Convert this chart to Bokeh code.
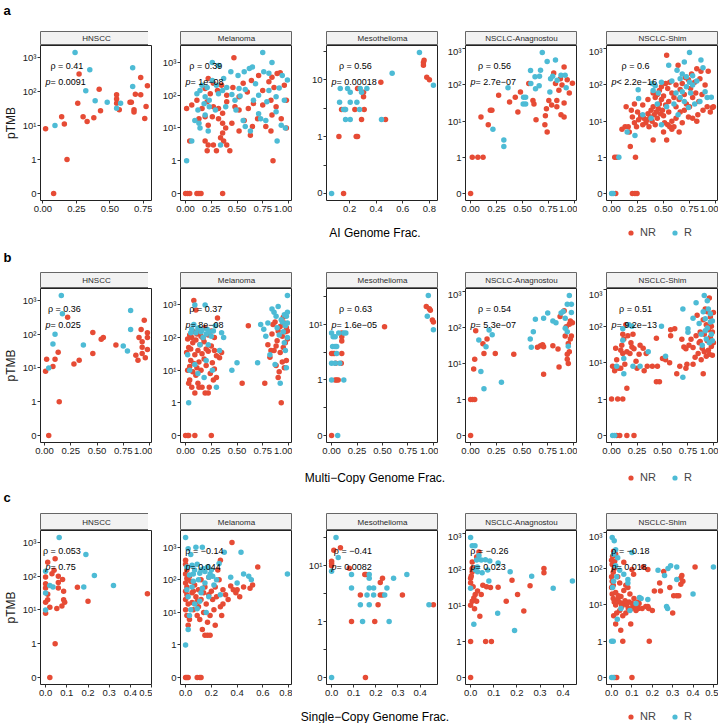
import math
from bokeh.plotting import figure
from bokeh.layouts import column, row
from bokeh.models import Range1d, FixedTicker, NumeralTickFormatter, Legend, LegendItem
from bokeh.core.properties import value
from bokeh.embed import file_html
from bokeh.resources import INLINE

RED = "#E64B35"
BLUE = "#4DBBD5"
FONT = "Liberation Sans"

panel_names = ["HNSCC", "Melanoma", "Mesothelioma", "NSCLC-Anagnostou", "NSCLC-Shim"]
row_letters = ["a", "b", "c"]
row_titles = ["AI Genome Frac.", "Multi\u2212Copy Genome Frac.", "Single\u2212Copy Genome Frac."]

rho_a = ["0.41", "0.39", "0.56", "0.56", "0.6"]
p_a = ["= 0.0091", "= 1e\u221208", "= 0.00018", "= 2.7e\u221207", "< 2.2e\u221216"]
rho_b = ["0.36", "0.37", "0.63", "0.54", "0.51"]
p_b = ["= 0.025", "= 8e\u221208", "= 1.6e\u221205", "= 5.3e\u221207", "= 9.2e\u221213"]
rho_c = ["0.053", "\u22120.14", "\u22120.41", "\u22120.26", "\u22120.18"]
p_c = ["= 0.75", "= 0.044", "= 0.0082", "= 0.023", "= 0.018"]

xticks_a = [[0, .25, .5, .75], [0, .25, .5, .75, 1], [.2, .4, .6, .8], [0, .25, .5, .75, 1], [0, .25, .5, .75, 1]]
xfmt_a = ["0.00", "0.00", "0.0", "0.00", "0.00"]
xticks_b = [[0, .25, .5, .75, 1]] * 5
xfmt_b = ["0.00"] * 5
xticks_c = [[0, .1, .2, .3, .4, .5], [0, .2, .4, .6, .8], [0, .1, .2, .3, .4], [0, .1, .2, .3, .4], [0, .1, .2, .3, .4, .5]]
xfmt_c = ["0.0"] * 5

y_ticks = [0.1, 1, 10, 100, 1000]
y_labels = ["0", "1", "10\u00b9", "10\u00b2", "10\u00b3"]

# ---------------- data: (genome fraction, pTMB) ----------------
a_hnscc_nr = [(0.27,330),(0.02,8),(0.14,18),(0.16,11),(0.18,1),(0.08,0),(0.26,45),(0.30,18),(0.33,13),(0.38,17),(0.42,117),(0.43,27),(0.55,80),(0.55,60),(0.55,45),(0.57,29),(0.65,48),(0.66,48),(0.68,29),(0.68,25),(0.69,83),(0.73,260),(0.73,80),(0.78,148),(0.77,36),(0.76,16)]
a_hnscc_r = [(0.24,1400),(0.35,440),(0.32,105),(0.39,53),(0.48,48),(0.55,32),(0.58,45),(0.67,500),(0.67,140),(0.09,10)]
a_mel_nr = [(.47,1380),(.22,320),(.27,230),(.19,160),(.24,110),(.31,140),(.35,200),(.40,100),(.46,170),(.52,90),(.56,230),(.60,126),(.64,280),(.71,400),(.75,140),(.84,350),(.89,460),(.92,480),(.96,200),(.86,170),(.81,255),(.01,39),(.06,50),(.11,70),(.16,39),(.21,63),(.27,44),(.32,39),(.36,28),(.40,63),(.48,44),(.52,35),(.61,39),(.66,56),(.75,50),(.83,70),(.88,44),(.98,70),(.13,19),(.19,22),(.22,12),(.26,22),(.32,19),(.36,14),(.39,10),(.45,14),(.52,8),(.57,17),(.65,11),(.70,19),(.78,11),(.84,25),(.93,19),(.98,10),(.04,4),(.19,4),(.22,3),(.27,3),(.30,2),(.34,5),(.37,4),(.40,3),(.43,2),(.21,2),(.36,7),(.63,6),(.83,8),(.85,1),(0.0,0),(.02,0),(.04,0),(.11,0),(.13,0),(.15,0),(.36,0)]
a_mel_r = [(.75,2000),(.84,1000),(.26,1000),(.32,800),(.65,720),(.57,515),(.62,650),(.76,515),(.81,470),(.99,290),(.16,200),(.21,170),(.14,140),(.11,110),(.19,90),(.23,70),(.26,280),(.30,200),(.36,140),(.40,170),(.45,105),(.48,70),(.52,160),(.58,150),(.53,95),(.66,70),(.71,100),(.79,63),(.88,90),(.91,165),(.94,400),(.71,27),(.73,19),(.56,17),(.58,11),(.63,8),(.78,17),(.88,31),(.93,12),(.89,4),(.01,1),(.09,17),(.13,14),(.12,35),(.19,25),(.23,44),(.29,35),(.34,3),(.06,4),(.14,10),(.22,8),(.39,44),(.49,35),(.18,55),(.32,110),(.37,320),(.44,515),(.51,400),(.68,225),(.81,140),(.96,70),(.97,10)]
a_meso_nr = [(0.155,0),(0.12,1),(0.25,1),(0.26,1),(0.29,2),(0.47,2),(0.14,3),(0.24,3),(0.31,3),(0.165,3),(0.26,7),(0.305,6),(0.305,5),(0.435,9),(0.755,20),(0.755,18),(0.76,22),(0.78,11),(0.80,10)]
a_meso_r = [(0.065,0),(0.17,2),(0.205,2),(0.44,2),(0.125,4),(0.205,4),(0.255,4),(0.155,3),(0.17,3),(0.275,3),(0.13,7),(0.185,7),(0.205,6),(0.28,7),(0.29,6),(0.33,7),(0.52,13),(0.725,30),(0.83,8)]
a_anag_nr = [(0,0),(0.016,1),(0.07,1),(0.12,1),(0.10,13),(0.17,8),(0.19,20),(0.205,20),(0.27,52),(0.375,34),(0.43,46),(0.455,18),(0.48,64),(0.56,110),(0.60,37),(0.61,30),(0.63,11),(0.72,14),(0.715,8),(0.737,5),(0.73,22),(0.753,37),(0.78,28),(0.80,215),(0.817,110),(0.83,37),(0.83,25),(0.85,71),(0.865,150),(0.87,15),(0.88,100),(0.90,315),(0.90,32),(0.90,13),(0.93,140),(0.95,60),(0.98,112)]
a_anag_r = [(0.215,6),(0.32,3),(0.32,2),(0.36,84),(0.51,46),(0.53,46),(0.506,30),(0.53,30),(0.577,250),(0.58,110),(0.62,170),(0.625,79),(0.66,95),(0.663,175),(0.673,255),(0.69,790),(0.737,450),(0.763,64),(0.77,150),(0.79,175),(0.817,490),(0.833,135),(0.87,185),(0.91,185),(0.92,84)]
a_shim_nr = [(0.04,0),(0.20,0),(0.225,0),(0.245,0),(0.03,1),(0.05,1),(0.23,1),(0.18,2),(0.40,3),(0.53,3),(0.14,25),(0.13,7),(0.10,6),(0.16,7),(0.17,5),(0.20,13),(0.19,20),(0.22,9),(0.24,7),(0.26,11),(0.28,14),(0.30,8),(0.31,12),(0.33,9),(0.34,11),(0.35,16),(0.36,7),(0.37,13),(0.38,20),(0.39,10),(0.40,25),(0.41,15),(0.42,8),(0.43,18),(0.44,12),(0.45,22),(0.46,30),(0.47,16),(0.48,40),(0.49,20),(0.50,14),(0.51,9),(0.52,28),(0.54,8),(0.55,18),(0.56,7),(0.58,10),(0.60,7),(0.62,12),(0.65,5),(0.68,9),(0.40,60),(0.42,45),(0.44,55),(0.46,70),(0.48,90),(0.50,50),(0.52,110),(0.53,665),(0.54,80),(0.55,35),(0.56,120),(0.58,60),(0.60,45),(0.62,100),(0.64,350),(0.65,40),(0.66,75),(0.68,110),(0.70,55),(0.71,160),(0.72,30),(0.74,140),(0.75,25),(0.76,80),(0.77,200),(0.78,45),(0.80,120),(0.81,60),(0.82,280),(0.83,15),(0.84,35),(0.85,150),(0.86,240),(0.87,55),(0.88,20),(0.90,100),(0.92,25),(0.93,240),(0.95,18),(0.97,24),(0.98,25),(0.62,25),(0.66,18),(0.70,20),(0.74,13),(0.78,12),(0.82,10),(0.58,6),(0.50,5),(0.30,28),(0.35,40),(0.25,18),(0.22,30)]
a_shim_r = [(0,0),(0.015,0),(0.07,1),(0.15,5),(0.225,4),(0.256,74),(0.26,42),(0.30,15),(0.38,12),(0.39,110),(0.40,70),(0.42,95),(0.44,30),(0.45,60),(0.48,120),(0.48,8),(0.53,25),(0.55,350),(0.58,130),(0.60,30),(0.62,60),(0.63,255),(0.64,15),(0.66,150),(0.66,45),(0.68,200),(0.68,65),(0.70,435),(0.70,35),(0.72,170),(0.72,90),(0.74,24),(0.75,790),(0.75,120),(0.76,60),(0.78,180),(0.78,100),(0.80,30),(0.82,130),(0.85,35),(0.86,490),(0.88,300),(0.90,65),(0.92,45),(0.96,46)]

b_hnscc_nr = [(0.01,8),(0.04,0),(0.02,18),(0.08,11),(0.10,18),(0.13,29),(0.14,1),(0.22,320),(0.28,13),(0.33,17),(0.46,27),(0.46,112),(0.54,71),(0.56,80),(0.68,48),(0.87,24),(0.89,17),(0.90,80),(0.92,137),(0.93,60),(0.93,41),(0.93,27),(0.96,20),(0.95,260),(0.98,35),(0.98,80),(0.98,110)]
b_hnscc_r = [(0.16,1400),(0.17,400),(0.10,100),(0.08,51),(0.04,10),(0.37,48),(0.82,500),(0.82,137),(0.79,32),(0.75,45)]
b_mel_nr = [(0.0,0),(0.02,0),(0.03,0),(0.09,0),(0.25,0),(0.03,4),(0.04,5),(0.06,3),(0.09,2),(0.13,3),(0.16,3),(0.19,2),(0.22,2),(0.23,3),(0.27,5),(0.30,6),(0.12,4),(0.10,7),(0.02,10),(0.04,13),(0.05,20),(0.07,9),(0.08,16),(0.11,12),(0.13,18),(0.15,10),(0.18,22),(0.20,14),(0.24,8),(0.26,17),(0.28,11),(0.33,24),(0.01,35),(0.03,50),(0.05,45),(0.07,70),(0.09,30),(0.10,85),(0.12,40),(0.14,60),(0.16,32),(0.18,75),(0.20,45),(0.22,38),(0.25,55),(0.28,40),(0.30,28),(0.35,35),(0.02,90),(0.04,120),(0.06,100),(0.08,150),(0.11,130),(0.13,180),(0.15,110),(0.17,95),(0.19,200),(0.22,120),(0.25,160),(0.28,100),(0.31,400),(0.08,1380),(0.10,700),(0.55,4),(0.61,230),(0.77,4),(0.80,60),(0.82,25),(0.84,130),(0.85,250),(0.86,40),(0.87,300),(0.88,14),(0.89,80),(0.90,6),(0.90,160),(0.91,9),(0.92,35),(0.92,220),(0.93,1),(0.94,18),(0.94,110),(0.95,420),(0.95,50),(0.96,12),(0.96,280),(0.97,150),(0.97,70),(0.98,20),(0.98,200),(0.99,90),(0.99,160),(0.83,40),(0.88,55)]
b_mel_r = [(0.03,1),(0.02,30),(0.05,140),(0.06,180),(0.08,250),(0.09,1000),(0.10,140),(0.12,190),(0.13,200),(0.14,60),(0.15,150),(0.16,170),(0.17,100),(0.19,1000),(0.20,130),(0.21,180),(0.22,60),(0.23,150),(0.25,110),(0.27,160),(0.29,230),(0.30,3),(0.33,40),(0.35,140),(0.37,100),(0.04,10),(0.09,15),(0.12,8),(0.18,6),(0.20,20),(0.26,10),(0.45,10),(0.50,17),(0.70,17),(0.73,250),(0.76,180),(0.78,110),(0.80,280),(0.82,30),(0.84,750),(0.86,600),(0.87,15),(0.88,450),(0.89,200),(0.90,900),(0.91,120),(0.92,4),(0.93,350),(0.94,300),(0.95,150),(0.96,500),(0.97,40),(0.98,12),(0.99,1950),(0.99,600),(0.98,450),(0.99,280),(0.97,230),(0.99,100),(0.96,70)]
b_meso_nr = [(0,0),(0.035,1),(0.05,1),(0.065,1),(0.095,2),(0.0,3),(0.015,3),(0.03,3),(0.10,7),(0.10,6),(0.10,5),(0.52,9),(0.93,21),(0.96,19),(0.97,18),(0.99,12),(1.0,11),(0.10,3),(0.04,2)]
b_meso_r = [(0.06,0),(0.0,1),(0.12,1),(0.0,2),(0.035,2),(0.08,2),(0.05,3),(0.01,4),(0.035,4),(0.05,4),(0.0,7),(0.015,6),(0.035,6),(0.07,7),(0.12,7),(0.14,7),(0.95,33),(0.94,14),(1.0,8)]
b_anag_nr = [(0,0),(0,1),(0.02,1),(0.04,1),(0.03,7),(0.04,13),(0.05,81),(0.12,35),(0.13,19),(0.16,48),(0.24,19),(0.42,18),(0.65,28),(0.68,31),(0.70,33),(0.71,29),(0.71,5),(0.80,31),(0.85,25),(0.86,8),(0.87,200),(0.91,290),(0.92,58),(0.93,105),(0.94,18),(0.94,13),(0.95,36),(0.95,10),(0.96,21),(0.96,122),(0.97,48),(0.97,150),(0.98,58),(0.99,135)]
b_anag_r = [(0.08,45),(0.10,6),(0.13,2),(0.15,29),(0.18,85),(0.21,63),(0.30,3),(0.58,48),(0.59,28),(0.61,76),(0.63,170),(0.71,180),(0.75,250),(0.80,150),(0.83,135),(0.88,250),(0.90,275),(0.92,95),(0.92,180),(0.94,76),(0.94,440),(0.96,770),(0.98,440),(0.98,260),(0.95,30)]
b_shim_nr = [(0.05,0),(0.08,0),(0.15,0),(0.22,0),(0,1),(0.06,1),(0.11,1),(0.15,2),(0.01,8),(0.03,6),(0.07,7),(0.09,7),(0.10,30),(0.11,60),(0.11,18),(0.14,110),(0.15,20),(0.18,18),(0.20,27),(0.22,24),(0.24,11),(0.25,7),(0.27,17),(0.31,25),(0.35,8),(0.40,8),(0.44,47),(0.44,3),(0.47,3),(0.50,13),(0.53,12),(0.58,80),(0.58,55),(0.64,5),(0.67,8),(0.69,44),(0.71,27),(0.73,24),(0.73,7),(0.74,9),(0.78,44),(0.80,9),(0.80,26),(0.82,14),(0.84,200),(0.85,18),(0.86,35),(0.87,70),(0.88,12),(0.89,25),(0.90,5),(0.90,150),(0.91,20),(0.91,60),(0.92,300),(0.93,15),(0.93,110),(0.94,40),(0.94,250),(0.95,22),(0.95,80),(0.96,600),(0.96,17),(0.97,50),(0.97,180),(0.98,28),(0.98,100),(0.99,16),(0.99,70),(1.0,35),(1.0,240),(0.87,38),(0.83,55),(0.76,30),(0.62,85),(0.57,10),(0.45,8),(0.32,6),(0.19,35),(0.16,55),(0.13,9),(0.05,12),(0.04,25),(0.12,45),(0.09,22),(0.28,30),(0.34,18),(0.21,60)]
b_shim_r = [(0.01,0),(0.03,0),(0.05,8),(0.12,5),(0.11,41),(0.11,85),(0.12,13),(0.17,110),(0.20,100),(0.21,8),(0.28,8),(0.36,20),(0.49,100),(0.53,15),(0.70,4),(0.70,300),(0.75,85),(0.75,68),(0.80,165),(0.83,440),(0.86,120),(0.88,60),(0.89,30),(0.90,250),(0.91,700),(0.92,160),(0.93,45),(0.94,90),(0.95,300),(0.96,35),(0.97,130),(0.98,60),(0.99,40),(0.97,220),(0.94,500),(0.92,75),(0.99,140)]

c_hnscc_nr = [(0.02,0),(0.045,1),(0.0,8),(0.0,17),(0.01,20),(0.02,12),(0.0,45),(0.0,60),(0.0,95),(0.01,29),(0.01,260),(0.045,330),(0.04,150),(0.06,100),(0.06,65),(0.06,45),(0.053,11),(0.08,80),(0.085,36),(0.077,13),(0.085,20),(0.09,17),(0.15,47),(0.20,18),(0.48,30),(0.03,118)]
c_hnscc_r = [(0.064,1400),(0.19,440),(0.23,105),(0.32,53),(0.18,48),(0.035,48),(0.0,32),(0.0,10),(0.02,53),(0.0,140)]
c_mel_nr = [(0.0,0),(0.01,0),(0.02,0),(0.09,0),(0.11,0),(0.12,0),(0.0,400),(0.0,300),(0.01,200),(0.0,150),(0.01,110),(0.0,80),(0.01,60),(0.0,45),(0.01,35),(0.0,25),(0.02,18),(0.0,12),(0.01,8),(0.02,4),(0.03,6),(0.03,130),(0.04,90),(0.05,40),(0.05,20),(0.06,12),(0.07,70),(0.08,30),(0.09,8),(0.10,50),(0.10,15),(0.11,6),(0.12,100),(0.12,25),(0.13,3),(0.14,40),(0.14,10),(0.15,2),(0.15,60),(0.16,18),(0.17,5),(0.17,2),(0.18,35),(0.18,120),(0.19,8),(0.19,2),(0.20,45),(0.21,25),(0.22,12),(0.23,60),(0.23,4),(0.24,30),(0.25,200),(0.26,100),(0.27,400),(0.27,15),(0.28,8),(0.29,50),(0.29,18),(0.31,35),(0.33,25),(0.35,65),(0.36,1400),(0.37,50),(0.39,40),(0.40,50),(0.42,30),(0.45,60),(0.50,55),(0.52,70),(0.56,250),(0.09,22),(0.06,45)]
c_mel_r = [(0.0,2000),(0.0,1),(0.01,250),(0.02,900),(0.02,3),(0.03,8),(0.04,600),(0.05,280),(0.06,150),(0.07,200),(0.08,1000),(0.09,300),(0.10,100),(0.11,160),(0.12,200),(0.12,40),(0.13,1000),(0.14,220),(0.15,180),(0.15,80),(0.16,10),(0.17,250),(0.18,30),(0.19,150),(0.20,200),(0.21,130),(0.22,70),(0.24,100),(0.26,320),(0.30,700),(0.35,120),(0.40,80),(0.43,700),(0.45,150),(0.49,130),(0.51,100),(0.79,150),(0.03,140),(0.05,60),(0.07,18),(0.09,13),(0.02,30),(0.04,12),(0.11,22),(0.01,50),(0.06,90),(0.13,55),(0.18,120),(0.27,35)]
c_meso_nr = [(0.153,0),(0.09,1),(0.195,1),(0.21,2),(0.46,2),(0.13,3),(0.22,3),(0.23,3),(0.32,3),(0.22,5),(0.23,6),(0.15,7),(0.155,7),(0.08,9),(0.0,11),(0.0,12),(0.01,19),(0.04,21),(0.0,10)]
c_meso_r = [(0,0),(0.14,1),(0.26,1),(0.13,2),(0.17,2),(0.44,2),(0.16,3),(0.19,3),(0.24,3),(0.09,4),(0.17,4),(0.19,4),(0.25,4),(0.17,6),(0.28,6),(0.09,7),(0.17,7),(0.34,7),(0.0,8),(0.02,32),(0.03,14)]
c_anag_nr = [(0,0),(0,1),(0.065,1),(0.09,1),(0,10),(0.017,8),(0.04,5),(0.154,13),(0.23,7),(0,56),(0,42),(0.003,65),(0.007,85),(0.011,33),(0.02,20),(0.014,16),(0.026,13),(0.007,13),(0.03,25),(0.046,20),(0.053,36),(0.069,33),(0.086,31),(0.119,32),(0.179,50),(0.203,20),(0.257,35),(0.317,105),(0.317,80),(0.036,300),(0.026,220),(0.007,160),(0.007,105)]
c_anag_r = [(0.014,3),(0.19,2),(0.117,6),(0,30),(0,760),(0.007,450),(0.019,450),(0.026,180),(0.036,240),(0.029,115),(0.046,180),(0.064,185),(0.083,170),(0.021,95),(0.074,95),(0.03,85),(0.119,150),(0.171,85),(0.079,47),(0.264,64),(0.357,30),(0.44,47),(0.05,80)]
c_shim_nr = [(0.016,0),(0.025,0),(0.10,0),(0.055,1),(0.185,1),(0.045,2),(0.02,3),(0.094,3),(0.01,5),(0.055,5),(0.0,30),(0.003,20),(0.008,15),(0.013,12),(0.02,10),(0.03,14),(0.038,12),(0.05,10),(0.058,11),(0.074,10),(0.082,8),(0.099,8),(0.107,10),(0.119,9),(0.132,8),(0.15,8),(0.168,9),(0.178,9),(0.182,8),(0.135,11),(0.10,11),(0.086,12),(0.066,13),(0.046,17),(0.033,18),(0.02,22),(0.008,35),(0.003,45),(0.0,60),(0.008,80),(0.013,100),(0.003,130),(0.0,170),(0.005,220),(0.01,300),(0.015,160),(0.02,250),(0.03,60),(0.04,40),(0.06,25),(0.07,35),(0.09,20),(0.11,15),(0.13,12),(0.236,40),(0.24,24),(0.21,24),(0.256,83),(0.286,30),(0.305,18),(0.32,18),(0.33,18),(0.30,6),(0.34,55),(0.345,65),(0.35,45),(0.34,37),(0.41,110),(0.10,95),(0.108,70),(0.178,95),(0.155,110),(0.06,150),(0.08,30),(0.05,9),(0.04,7),(0.025,6),(0.12,7),(0.2,7),(0.07,6)]
c_shim_r = [(0.0,0),(0.008,0),(0.0,1),(0.008,1),(0.028,4),(0.046,8),(0.003,720),(0.013,590),(0.02,330),(0.01,250),(0.03,200),(0.10,280),(0.025,60),(0.02,120),(0.04,90),(0.06,70),(0.08,50),(0.08,40),(0.137,16),(0.145,15),(0.178,14),(0.228,90),(0.26,65),(0.277,100),(0.29,120),(0.32,110),(0.32,50),(0.27,9),(0.275,8),(0.40,20),(0.50,110),(0.005,30),(0.01,45),(0.12,11),(0.09,7)]

rows_data = [
    [(a_hnscc_nr, a_hnscc_r), (a_mel_nr, a_mel_r), (a_meso_nr, a_meso_r), (a_anag_nr, a_anag_r), (a_shim_nr, a_shim_r)],
    [(b_hnscc_nr, b_hnscc_r), (b_mel_nr, b_mel_r), (b_meso_nr, b_meso_r), (b_anag_nr, b_anag_r), (b_shim_nr, b_shim_r)],
    [(c_hnscc_nr, c_hnscc_r), (c_mel_nr, c_mel_r), (c_meso_nr, c_meso_r), (c_anag_nr, c_anag_r), (c_shim_nr, c_shim_r)],
]
rows_rho = [rho_a, rho_b, rho_c]
rows_p = [p_a, p_b, p_c]
rows_xt = [xticks_a, xticks_b, xticks_c]
rows_xf = [xfmt_a, xfmt_b, xfmt_c]

# ---------------- layout constants ----------------
TOTAL_W = 714
FW = 112
LB = [36, 28, 34, 27, 29]
RB = [0, 0, 0, 0, 0]
# header h, letter offset, strip h, panel h, panel bottom border, footer h, footer text centre (from top)
BLOCKS = [(31, 2, 14, 155, 18, 24, 14),
          (30, 7, 16, 154, 18, 24, 17),
          (29, 5, 17, 154, 18, 21, 14)]
TITLE_X = 374.5
LEGEND_X = 624

ADV = {'0': 556, '1': 556, '2': 556, '3': 556, '4': 556, '5': 556, '6': 556, '7': 556, '8': 556, '9': 556,
       '.': 278, ' ': 278, '=': 584, '<': 584, '\u2212': 584, '-': 333, 'e': 556, 'p': 556, '\u03c1': 576}


def tw(s, size):
    return sum(ADV.get(ch, 556) for ch in s) * size / 1000.0


def pseudo(v):
    return v if v > 0 else 0.1


def make_panel(nr, r, xt, xf, L, R, P, B, rho, pstr, first, meso, meso_plain10):
    allx = [t[0] for t in nr + r]
    ally = [pseudo(t[1]) for t in nr + r]
    x0, x1 = min(allx), max(allx)
    xp = 0.05 * (x1 - x0)
    l0, l1 = math.log10(min(ally)), math.log10(max(ally))
    lp = 0.05 * (l1 - l0)
    xr = Range1d(x0 - xp, x1 + xp)
    yr = Range1d(10 ** (l0 - lp), 10 ** (l1 + lp))
    p = figure(frame_width=FW, frame_height=P, x_range=xr, y_range=yr, y_axis_type="log",
               min_border_left=L, min_border_right=R, min_border_top=0, min_border_bottom=B,
               output_backend="svg", toolbar_location=None)
    p.xgrid.grid_line_color = None
    p.ygrid.grid_line_color = None
    p.outline_line_color = "#222222"
    p.outline_line_width = 1
    p.background_fill_color = "white"
    p.scatter([t[0] for t in nr], [pseudo(t[1]) for t in nr], size=5.5, fill_color=RED, line_color=None)
    p.scatter([t[0] for t in r], [pseudo(t[1]) for t in r], size=5.5, fill_color=BLUE, line_color=None)

    p.xaxis.ticker = FixedTicker(ticks=xt)
    p.xaxis.formatter = NumeralTickFormatter(format=xf)
    if meso:
        p.yaxis.ticker = FixedTicker(ticks=y_ticks[:3], minor_ticks=[0.316, 3.16, 31.6])
    else:
        p.yaxis.ticker = FixedTicker(ticks=y_ticks)
    labs = list(y_labels)
    if meso_plain10:
        labs[2] = "10"
    p.yaxis.major_label_overrides = {t: s for t, s in zip(y_ticks, labs)}
    for ax in (p.xaxis[0], p.yaxis[0]):
        ax.axis_line_color = None
        ax.major_tick_line_color = "#333333"
        ax.major_tick_out = 3
        ax.major_tick_in = 0
        ax.minor_tick_line_color = None
        ax.major_label_text_font = FONT
        ax.major_label_text_font_size = "9.5px"
        ax.major_label_text_color = "#1a1a1a"
    p.xaxis.major_label_standoff = 2
    p.yaxis.major_label_standoff = 1
    if meso:
        p.yaxis.minor_tick_line_color = "#333333"
        p.yaxis.minor_tick_out = 3
        p.yaxis.minor_tick_in = 0
    if first:
        p.yaxis.axis_label = "pTMB"
        p.yaxis.axis_label_text_font = FONT
        p.yaxis.axis_label_text_font_size = "12px"
        p.yaxis.axis_label_text_font_style = "normal"
        p.yaxis.axis_label_text_color = "#1a1a1a"
        p.yaxis.axis_label_standoff = 2

    # correlation annotation, anchored at the panel's top-left corner
    pline = "p " + pstr
    wline = tw(pline, 9)
    cx = 5 + wline / 2.0
    tx = [xr.start]
    ty = [yr.end]
    p.text(tx, ty, text=["\u03c1 = " + rho], x_offset=cx, y_offset=20, text_align="center",
           text_baseline="middle", text_font=value(FONT), text_font_size="9px", text_color="black")
    p.text(tx, ty, text=["p"], x_offset=5, y_offset=36, text_align="left", text_baseline="middle",
           text_font=value(FONT), text_font_size="9px", text_font_style="italic", text_color="black")
    p.text(tx, ty, text=[" " + pstr], x_offset=5 + tw("p", 9), y_offset=36, text_align="left",
           text_baseline="middle", text_font=value(FONT), text_font_size="9px", text_color="black")
    return p


def make_strip(name, L, R, S):
    s = figure(frame_width=FW, frame_height=S, x_range=Range1d(0, 1), y_range=Range1d(0, 1),
               min_border_left=L, min_border_right=R, min_border_top=0, min_border_bottom=0,
               x_axis_location=None, y_axis_location=None, output_backend="svg", toolbar_location=None)
    s.xgrid.grid_line_color = None
    s.ygrid.grid_line_color = None
    s.background_fill_color = "#F2F2F2"
    s.outline_line_color = "#666666"
    s.outline_line_width = 1
    s.text([0.5], [0.5], text=[name], text_align="center", text_baseline="middle",
           text_font=value(FONT), text_font_size="8px", text_color="#2a2a2a")
    return s


def make_header(letter, h, off):
    f = figure(width=TOTAL_W, height=h, min_border=0, x_range=Range1d(0, 1), y_range=Range1d(0, 1),
               x_axis_location=None, y_axis_location=None, output_backend="svg", toolbar_location=None)
    f.xgrid.grid_line_color = None
    f.ygrid.grid_line_color = None
    f.outline_line_color = None
    f.text([0], [1], text=[letter], text_align="left", text_baseline="top", x_offset=3, y_offset=off,
           text_font=value(FONT), text_font_size="13px", text_font_style="bold", text_color="black")
    return f


def make_footer(title, h, tc):
    f = figure(width=TOTAL_W, height=h, min_border=0, x_range=Range1d(0, TOTAL_W), y_range=Range1d(0, h),
               x_axis_location=None, y_axis_location=None, output_backend="svg", toolbar_location=None)
    f.xgrid.grid_line_color = None
    f.ygrid.grid_line_color = None
    f.outline_line_color = None
    f.text([TITLE_X], [h - tc], text=[title], text_align="center", text_baseline="middle",
           text_font=value(FONT), text_font_size="12px", text_color="black")
    # legend keys: renderers whose single point lies outside the visible area
    rn = f.scatter(x=[-500], y=[-500], size=5.5, fill_color=RED, line_color=None)
    rr = f.scatter(x=[-500], y=[-500], size=5.5, fill_color=BLUE, line_color=None)
    leg = Legend(items=[LegendItem(label="NR", renderers=[rn]), LegendItem(label="R", renderers=[rr])],
                 orientation="horizontal", location=(LEGEND_X, max(0, h - tc - 6.5)), glyph_width=13,
                 glyph_height=13, label_standoff=3, spacing=8, padding=0, margin=0, border_line_color=None,
                 background_fill_alpha=0, label_text_font=FONT, label_text_font_size="11px",
                 label_height=13)
    f.add_layout(leg, "center")
    return f


items = []
for ri in range(3):
    hh, off, S, P, B, F, tc = BLOCKS[ri]
    items.append(make_header(row_letters[ri], hh, off))
    cols = []
    for pi in range(5):
        nr, r = rows_data[ri][pi]
        st = make_strip(panel_names[pi], LB[pi], RB[pi], S)
        pn = make_panel(nr, r, rows_xt[ri][pi], rows_xf[ri][pi], LB[pi], RB[pi], P, B,
                        rows_rho[ri][pi], rows_p[ri][pi], pi == 0, pi == 2, (ri == 0 and pi == 2))
        cols.append(column(st, pn, spacing=0))
    items.append(row(*cols, spacing=0))
    items.append(make_footer(row_titles[ri], F, tc))

layout = column(*items, spacing=0)
open("out.html", "w").write(file_html(layout, INLINE))
